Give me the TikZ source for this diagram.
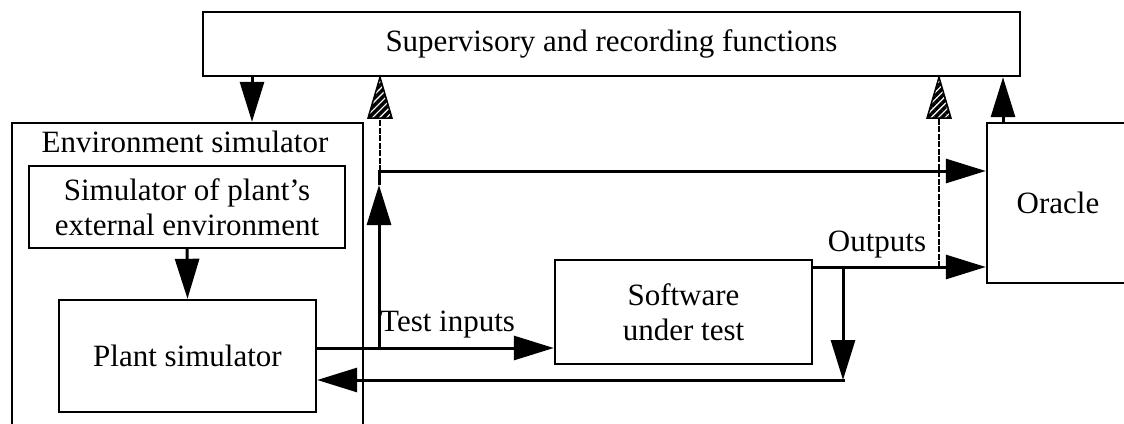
\documentclass[tikz,border=0pt]{standalone}
\usepackage{fontspec}
\setmainfont{Liberation Serif}
\usetikzlibrary{arrows.meta,patterns.meta,calc}
\tikzset{
  box/.style={draw, line width=2.4pt, inner sep=0pt, align=center,
    font=\fontsize{31}{35}\selectfont},
  lbl/.style={inner sep=0pt, font=\fontsize{31}{35}\selectfont},
  arr/.style={line width=3pt, -{Triangle[length=40pt,width=24pt]}},
  wire/.style={line width=3pt},
  dsh/.style={line width=2pt, dash pattern=on 6pt off 1.5pt},
  hatch/.style={pattern={Lines[angle=45,distance=5pt,line width=3.5pt]}, draw, line width=1.5pt},
}
\begin{document}
\begin{tikzpicture}[x=1pt,y=-1pt]
\path[use as bounding box] (0,0) rectangle (1124,423);
\clip (0,0) rectangle (1124,423);
\fill[white] (0,0) rectangle (1124,423);

% nodes
\node[box, minimum width=817pt, minimum height=64pt] (sup) at (611.5,44) {Supervisory and recording functions};
\node[box, minimum width=351pt, minimum height=400pt] (env) at (187.5,323) {};
\node[lbl, anchor=base] (envlbl) at (185,152) {Environment simulator};
\node[box, minimum width=316pt, minimum height=82pt] (ext) at (187,207) {Simulator of plant's\\external environment};
\node[box, minimum width=257pt, minimum height=112pt] (plant) at (187.5,356) {Plant simulator};
\node[box, minimum width=257pt, minimum height=104pt] (sw) at (683.5,312) {Software\\under test};
\node[box, minimum width=142pt, minimum height=160pt] (oracle) at (1058,203) {Oracle};
\node[lbl, anchor=base west] (tilbl) at (380,331) {Test inputs};
\node[lbl, anchor=base] (outlbl) at (877,251) {Outputs};

% helper coordinates
\coordinate (xa) at (252,0);
\coordinate (ti) at (379,348);
\coordinate (up) at (379,185);
\coordinate (tee) at (379,171);
\coordinate (dsa) at (380,171);
\coordinate (oy) at (0,267);
\coordinate (dn) at (843,267);
\coordinate (dn2) at (843,380);
\coordinate (d2) at (939,267);
\coordinate (xo) at (1003,0);

% connectors
\draw[arr] (xa |- sup.south) -- (xa |- env.north);
\draw[arr] (ext.south) -- (plant.north);
\draw[wire] (plant.east |- ti) -- (ti);
\draw[arr] (ti) -- (sw.west |- ti);
\draw[arr] (ti) -- (up);
\draw[wire] (up) -- (tee);
\draw[arr] ([xshift=-1.5pt]tee) -- (oracle.west |- tee);
\draw[arr] (sw.east |- oy) -- (oracle.west |- oy);
\draw[arr] (dn) -- (dn2);
\draw[arr] ([xshift=1.5pt]dn2) -- (plant.east |- dn2);
\draw[arr] (xo |- oracle.north) -- (xo |- sup.south);

% dashed monitoring lines with hatched heads
\draw[dsh] (dsa) -- ($(dsa |- sup.south)+(0,41)$);
\draw[hatch] (dsa |- sup.south) -- ++(-12,41) -- ++(24,0) -- cycle;
\draw[dsh] (d2) -- ($(d2 |- sup.south)+(0,41)$);
\draw[hatch] (d2 |- sup.south) -- ++(-12,41) -- ++(24,0) -- cycle;
\end{tikzpicture}
\end{document}
